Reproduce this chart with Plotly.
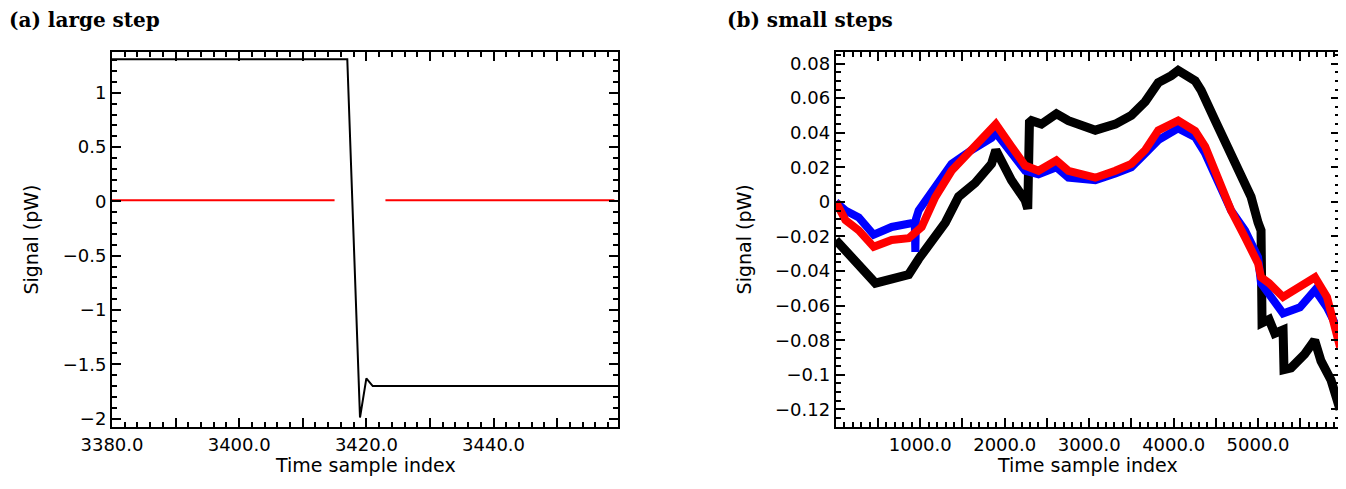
import plotly.graph_objects as go

# ---------------- data: (a) large step ----------------
a_black_x = [3380, 3400, 3417, 3419, 3420, 3421, 3440, 3459]
a_black_y = [1.31, 1.31, 1.31, -1.99, -1.63, -1.70, -1.70, -1.70]
a_red_x = [3380, 3400, 3415, None, 3423, 3440, 3459]
a_red_y = [0.01, 0.01, 0.01, None, 0.01, 0.01, 0.01]

a_xticks = [3380, 3390, 3400, 3410, 3420, 3430, 3440, 3450]
a_xtext = ["3380.0", "", "3400.0", "", "3420.0", "", "3440.0", ""]
a_yticks = [1, 0.5, 0, -0.5, -1, -1.5, -2]
a_ytext = ["1", "0.5", "0", "\u22120.5", "\u22121", "\u22121.5", "\u22122"]

# ---------------- data: (b) small steps ----------------
b_black_x = [0, 469, 863, 981, 1297, 1454, 1651, 1844, 1895, 2080, 2242, 2273,
             2293, 2317, 2435, 2612, 2754, 3073, 3310, 3499, 3664, 3818, 3972,
             4054, 4255, 4326, 4492, 4645, 4764, 4917, 5000, 5035, 5047, 5130,
             5197, 5296, 5307, 5390, 5552, 5670, 5745, 5863, 5970]
b_black_y = [-0.022, -0.047, -0.042, -0.033, -0.012, 0.003, 0.011, 0.022, 0.030,
             0.0125, 0.001, -0.004, 0.046, 0.047, 0.045, 0.051, 0.047, 0.0415,
             0.045, 0.050, 0.058, 0.069, 0.073, 0.076, 0.070, 0.0645, 0.047,
             0.0316, 0.018, 0.003, -0.012, -0.0165, -0.070, -0.068, -0.076,
             -0.074, -0.097, -0.096, -0.088, -0.080, -0.092, -0.103, -0.120]

b_blue_x = [0, 115, 272, 449, 662, 863, 935, 942, 949, 981, 1178, 1371, 1608,
            1844, 1895, 2080, 2242, 2400, 2612, 2754, 3073, 3310, 3499, 3664,
            3818, 4054, 4255, 4374, 4527, 4681, 4846, 5000, 5035, 5154, 5296,
            5496, 5674, 5816, 5970]
b_blue_y = [0.0, -0.005, -0.009, -0.019, -0.0145, -0.0125, -0.012, -0.029, -0.010,
            -0.005, 0.0086, 0.022, 0.030, 0.037, 0.040, 0.028, 0.018, 0.016,
            0.020, 0.014, 0.0125, 0.0165, 0.020, 0.028, 0.0357, 0.0425, 0.0375,
            0.028, 0.0106, -0.005, -0.0165, -0.032, -0.047, -0.055, -0.0645,
            -0.061, -0.051, -0.061, -0.076]

b_red_x = [0, 115, 272, 449, 662, 863, 1017, 1178, 1371, 1608, 1844, 1895, 2080,
           2242, 2400, 2612, 2754, 3073, 3310, 3499, 3664, 3818, 4054, 4255,
           4374, 4527, 4681, 4846, 5000, 5035, 5130, 5296, 5496, 5674, 5816, 5970]
b_red_y = [0.0, -0.0106, -0.0165, -0.026, -0.022, -0.021, -0.0145, 0.0028, 0.018,
           0.030, 0.0414, 0.045, 0.032, 0.021, 0.018, 0.024, 0.018, 0.014, 0.018,
           0.022, 0.030, 0.0414, 0.047, 0.041, 0.032, 0.0125, -0.005, -0.0205,
           -0.0356, -0.0436, -0.047, -0.055, -0.049, -0.0436, -0.055, -0.084]

b_xticks = [0, 500, 1000, 1500, 2000, 2500, 3000, 3500, 4000, 4500, 5000, 5500]
b_xtext = ["", "", "1000.0", "", "2000.0", "", "3000.0", "", "4000.0", "", "5000.0", ""]
b_yticks = [0.08, 0.06, 0.04, 0.02, 0, -0.02, -0.04, -0.06, -0.08, -0.1, -0.12]
b_ytext = ["0.08", "0.06", "0.04", "0.02", "0", "\u22120.02", "\u22120.04",
           "\u22120.06", "\u22120.08", "\u22120.1", "\u22120.12"]

# ---------------- figure ----------------
fig = go.Figure()
fig.add_trace(go.Scatter(x=a_black_x, y=a_black_y, mode="lines",
                         line=dict(color="black", width=2), xaxis="x", yaxis="y"))
fig.add_trace(go.Scatter(x=a_red_x, y=a_red_y, mode="lines", connectgaps=False,
                         line=dict(color="red", width=2), xaxis="x", yaxis="y"))

fig.add_trace(go.Scatter(x=b_black_x, y=b_black_y, mode="lines",
                         line=dict(color="black", width=9), xaxis="x2", yaxis="y2"))
fig.add_trace(go.Scatter(x=b_blue_x, y=b_blue_y, mode="lines",
                         line=dict(color="blue", width=8), xaxis="x2", yaxis="y2"))
fig.add_trace(go.Scatter(x=b_red_x, y=b_red_y, mode="lines",
                         line=dict(color="red", width=8), xaxis="x2", yaxis="y2"))

tickfont = dict(family="DejaVu Sans", size=18, color="black")
common = dict(showline=True, linecolor="black", linewidth=2, mirror="allticks",
              ticks="inside", ticklen=9, tickwidth=1.5, tickcolor="black",
              showgrid=False, zeroline=False, tickfont=tickfont,
              tickmode="array")

# page body has an 8px margin: figure is 1338x481 so the plot sits where the
# reference has it inside the 1346x489 window
fig.update_layout(
    width=1338, height=481,
    margin=dict(l=104, r=4, t=44, b=62),
    paper_bgcolor="white", plot_bgcolor="white",
    showlegend=False,
    xaxis=dict(domain=[0, 0.4122], range=[3380, 3459.6], tickvals=a_xticks,
               ticktext=a_xtext, anchor="y",
               minor=dict(ticks="inside", ticklen=5, tickwidth=1.5,
                          tickcolor="black", dtick=2, tick0=3380, showgrid=False),
               **common),
    yaxis=dict(domain=[0, 1], range=[-2.077, 1.376], tickvals=a_yticks,
               ticktext=a_ytext, anchor="x",
               minor=dict(ticks="inside", ticklen=5, tickwidth=1.5,
                          tickcolor="black", dtick=0.1, tick0=0, showgrid=False),
               **common),
    xaxis2=dict(domain=[0.5894, 1.0], range=[0, 5970], tickvals=b_xticks,
                ticktext=b_xtext, anchor="y2",
                minor=dict(ticks="inside", ticklen=5, tickwidth=1.5,
                           tickcolor="black", dtick=100, tick0=0, showgrid=False),
                **common),
    yaxis2=dict(domain=[0, 1], range=[-0.1302, 0.0867], tickvals=b_yticks,
                ticktext=b_ytext, anchor="x2",
                minor=dict(ticks="inside", ticklen=5, tickwidth=1.5,
                           tickcolor="black", dtick=0.005, tick0=0, showgrid=False),
                **common),
)

title_font = dict(family="DejaVu Serif", size=20, color="black")
label_font = dict(family="DejaVu Sans", size=19, color="black")
ann = [
    dict(text="<b>(a) large step</b>", x=-0.0846, y=1.0853, xanchor="left",
         yanchor="middle", font=title_font, borderpad=0),
    dict(text="<b>(b) small steps</b>", x=0.5, y=1.0853, xanchor="left",
         yanchor="middle", font=title_font, borderpad=0),
    dict(text="Signal (pW)", x=-0.0667, y=0.5, textangle=-90, xanchor="center",
         yanchor="middle", font=label_font),
    dict(text="Signal (pW)", x=0.5146, y=0.5, textangle=-90, xanchor="center",
         yanchor="middle", font=label_font),
    dict(text="Time sample index", x=0.2061, y=-0.101, xanchor="center",
         yanchor="middle", font=label_font),
    dict(text="Time sample index", x=0.7947, y=-0.101, xanchor="center",
         yanchor="middle", font=label_font),
]
for a in ann:
    a.update(xref="paper", yref="paper", showarrow=False)
fig.update_layout(annotations=ann)

fig.write_html("out.html")
